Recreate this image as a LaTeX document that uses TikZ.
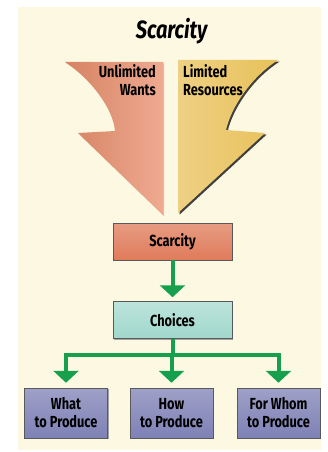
\documentclass[tikz,border=0pt]{standalone}
\usepackage{fontspec}
\setmainfont{Fira Sans}[FakeStretch=0.8]
\usetikzlibrary{arrows.meta,shadows}

\definecolor{cream}{HTML}{FCF8E2}
\definecolor{wants}{HTML}{E98E6C}
\definecolor{resources}{HTML}{E8C15A}
\definecolor{scarcebox}{HTML}{DF7B5A}
\definecolor{choicebox}{HTML}{A0D8CC}
\definecolor{producebox}{HTML}{7E81B5}
\definecolor{flowgreen}{HTML}{16A04E}

\tikzset{
	boxtext/.style={font=\bfseries\fontsize{16}{18}\selectfont},
	box/.style={boxtext, draw=black!65, line width=0.5pt, inner sep=0pt, align=center,
		drop shadow={shadow xshift=1.3pt, shadow yshift=-1.3pt, opacity=0.7}},
	bigbox/.style={box, minimum width=119pt, minimum height=37pt},
	smallbox/.style={box, minimum width=83pt, minimum height=50pt,
		top color=producebox!75!white, bottom color=producebox},
	flow/.style={line width=4pt, flowgreen, -{Triangle[width=25pt,length=12pt]}},
	bus/.style={line width=4pt, flowgreen},
}

\begin{document}
\begin{tikzpicture}[x=1pt, y=-1pt]
%	helplines
%	\draw[thin] (0,0) grid[step=10] (327,452);
	\useasboundingbox (0,0) rectangle (327,452);
	\fill[cream] (18,7) rectangle (321,450);
	
	\node (title) [font=\bfseries\itshape\fontsize{25}{28}\selectfont] at (171.5,31) {Scarcity};
	
	% the two big arrows
	\fill[wants!80!black, opacity=0.4, xshift=1pt, yshift=-1pt] (65,62) -- (163,62) -- (163,215) -- (78,133) -- (115,131) .. controls (113,108) and (90,78) .. (65,62) -- cycle;
	\shade[left color=wants!92!black, right color=wants!75!white] (65,62) -- (163,62) -- (163,215) -- (78,133) -- (115,131) .. controls (113,108) and (90,78) .. (65,62) -- cycle;
	
	\fill[black!75, xshift=1.6pt, yshift=-1.6pt] (178,60) -- (278,60) .. controls (250,78) and (231,108) .. (226,130) -- (265,133) -- (178,213) -- cycle;
	\shade[left color=resources!75!white, right color=resources] (178,60) -- (278,60) .. controls (250,78) and (231,108) .. (226,130) -- (265,133) -- (178,213) -- cycle;
	
	\node (wants) [boxtext, anchor=north east, align=right, inner sep=0pt] at (156,64) {Unlimited\\Wants};
	\node (resources) [boxtext, anchor=north west, align=left, inner sep=0pt] at (183,64) {Limited\\Resources};
	
	% boxes
	\node (scarce) [bigbox, top color=scarcebox!75!white, bottom color=scarcebox] at (172.5,241.5) {Scarcity};
	\node (choice) [bigbox, top color=choicebox!70!white, bottom color=choicebox] at (172.5,320) {Choices};
	
	\node (what) [smallbox] at (66,413) {What\\to Produce};
	\node (how) [smallbox] at (171.5,413) {How\\to Produce};
	\node (whom) [smallbox] at (278.5,413) {For Whom\\to Produce};
	
	% connectors
	\draw[flow, shorten >=4pt] (scarce) -- (choice);
	
	\coordinate (fork) at (172.5,355);
	\draw[bus] (choice) -- (fork);
	\draw[flow, shorten >=5pt] (fork) -| (what);
	\draw[flow, shorten >=5pt] (fork) -- (fork -| how) -- (how);
	\draw[flow, shorten >=5pt] (fork) -| (whom);
	
\end{tikzpicture}
\end{document}
